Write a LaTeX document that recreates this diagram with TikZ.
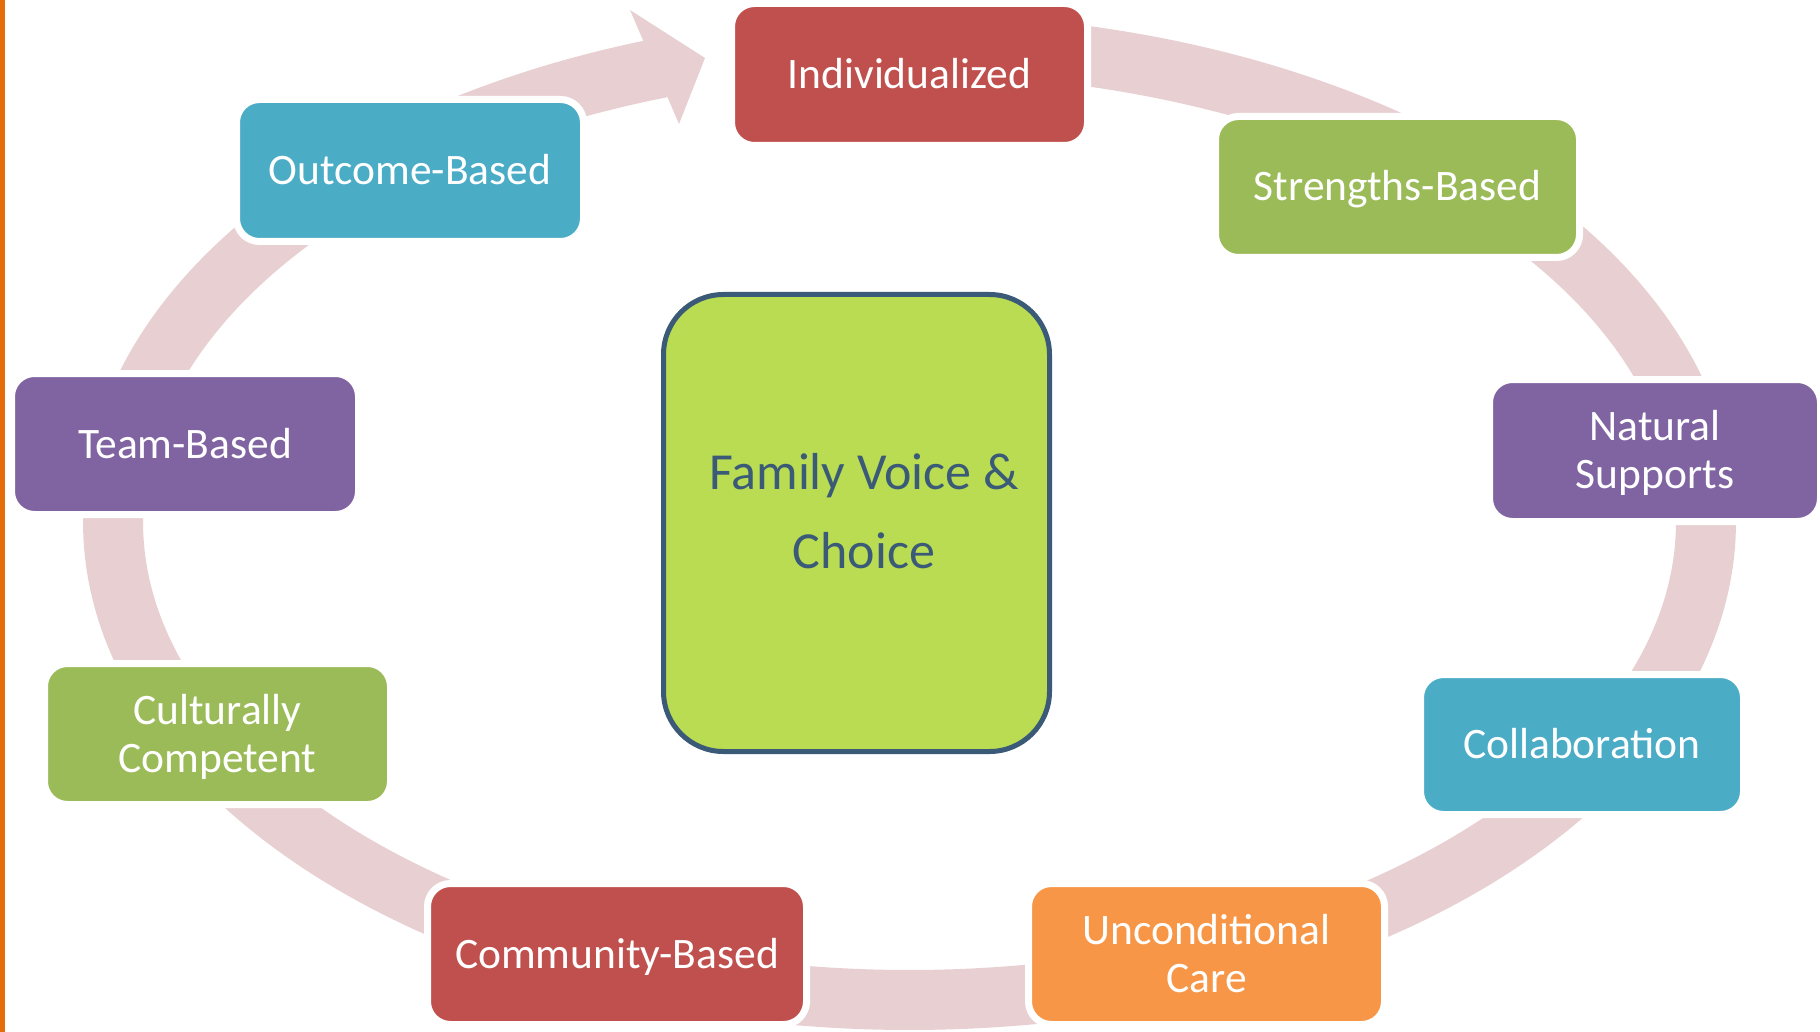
\documentclass[tikz,border=0pt]{standalone}
\usepackage{fontspec}
\setmainfont{Carlito}
\definecolor{cRed}{HTML}{C0504D}
\definecolor{cGreen}{HTML}{9BBB59}
\definecolor{cPurple}{HTML}{8064A2}
\definecolor{cAqua}{HTML}{4BACC6}
\definecolor{cOrange}{HTML}{F79646}
\definecolor{cBand}{HTML}{E8D0D2}
\definecolor{cLime}{HTML}{B9DC52}
\definecolor{cSlate}{HTML}{3A5A78}
\definecolor{cBar}{HTML}{E46C0A}
\newcommand\twolines[2]{\begin{tabular}[t]{@{}c@{}}#1\\#2\end{tabular}}
\begin{document}
\begin{tikzpicture}[x=1pt,y=-1pt,
  box/.style={rectangle, rounded corners=23pt, draw=white, line width=7pt, inner sep=0pt},
  lbl/.style={text=white, font=\fontsize{43.5}{48}\selectfont, anchor=base, inner sep=0pt},
  ctext/.style={text=cSlate, font=\fontsize{52}{79}\selectfont, anchor=base, inner sep=0pt},
  band/.style={draw=cBand, line width=60pt}]
\useasboundingbox (0,0) rectangle (1820,1032);
\fill[white] (0,0) rectangle (1820,1032);
% left accent bar
\fill[cBar] (0,0) rectangle (5,1032);
% cycle band
\draw[band] plot[domain=262.1:612.3, samples=300, smooth, variable=\t] ({909.5+796.5*cos(\t)},{522+478*sin(\t)});
\coordinate (tip) at (705,58);
\fill[cBand] (630,10) -- (tip) -- (679,124) -- cycle;
% boxes
\node[box, fill=cRed,    minimum width=356pt, minimum height=142pt] (ind)  at (909.5,74.5) {};
\node[box, fill=cGreen,  minimum width=364pt, minimum height=141pt] (str)  at (1397.5,187) {};
\node[box, fill=cPurple, minimum width=331pt, minimum height=142pt] (nat)  at (1655,450.5) {};
\node[box, fill=cAqua,   minimum width=323pt, minimum height=140pt] (col)  at (1582,744.5) {};
\node[box, fill=cOrange, minimum width=356pt, minimum height=141pt] (unc)  at (1206.5,954) {};
\node[box, fill=cRed,    minimum width=379pt, minimum height=141pt] (com)  at (617,954) {};
\node[box, fill=cGreen,  minimum width=346pt, minimum height=141pt] (cul)  at (217.5,734) {};
\node[box, fill=cPurple, minimum width=347pt, minimum height=141pt] (team) at (185,444) {};
\node[box, fill=cAqua,   minimum width=347pt, minimum height=142pt] (out)  at (410,170.5) {};
% labels
\node[lbl] (indt)  at (909.5,88.5) {Individualized};
\node[lbl] (strt)  at (1397.5,201) {Strengths-Based};
\node[lbl] (natt)  at (1655,440.5) {\twolines{Natural}{Supports}};
\node[lbl] (colt)  at (1582,758.5) {Collaboration};
\node[lbl] (unct)  at (1206.5,944) {\twolines{Unconditional}{Care}};
\node[lbl] (comt)  at (617,968) {Community-Based};
\node[lbl] (cult)  at (217.5,724) {\twolines{Culturally}{Competent}};
\node[lbl] (teamt) at (185,458) {Team-Based};
\node[lbl] (outt)  at (410,184.5) {Outcome-Based};
% centre
\node[draw=cSlate, line width=5pt, fill=cLime, rounded corners=60pt, inner sep=0pt,
      minimum width=386pt, minimum height=457pt] (fvc) at (856.5,523) {};
\node[ctext] (fvca) at (864,489) {Family Voice \&};
\node[ctext] (fvcb) at (864,568) {Choice};
\end{tikzpicture}
\end{document}
